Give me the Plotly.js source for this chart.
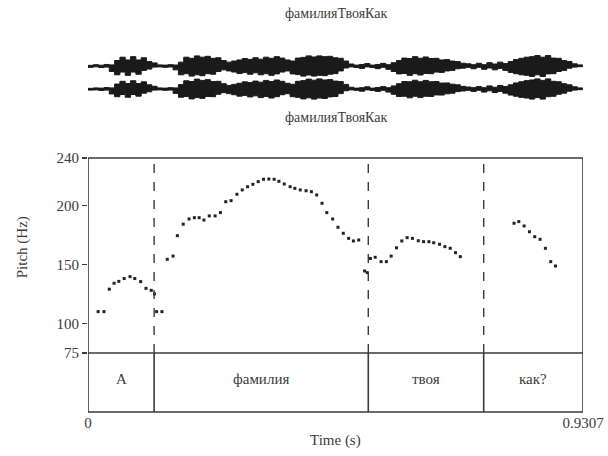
<!DOCTYPE html>
<html>
<head>
<meta charset="utf-8">
<script src="https://cdn.plot.ly/plotly-3.0.1.min.js"></script>
<style>html,body{margin:0;padding:0;background:#fff;}#chart{width:608px;height:456px;}</style>
</head>
<body>
<div id="chart"></div>
<script>
// ---- data ----
const totalDuration = 0.9307;
const soundTitle = "фамилияТвояКак";
const tierLabels = ["А", "фамилия", "твоя", "как?"];
const tierBoundaries = [0.1243, 0.527, 0.744];
const pitchTicks = [75, 100, 150, 200, 240];
const timeTickLabels = ["0", "0.9307"];

const pitchTime = [0.019,0.030,0.040,0.049,0.058,0.068,0.079,0.088,0.099,0.109,0.119,0.125,0.129,0.139,0.149,0.160,0.168,0.179,0.190,0.200,0.209,0.218,0.228,0.239,0.249,0.259,0.269,0.280,0.290,0.300,0.310,0.320,0.330,0.340,0.350,0.359,0.369,0.380,0.389,0.399,0.410,0.420,0.430,0.440,0.449,0.460,0.470,0.480,0.490,0.499,0.509,0.520,0.525,0.531,0.540,0.551,0.561,0.570,0.580,0.590,0.600,0.610,0.621,0.631,0.641,0.650,0.661,0.671,0.681,0.691,0.700,0.801,0.810,0.820,0.830,0.840,0.850,0.860,0.870,0.879];
const pitchHz = [110,110,129,134,135.6,138,139.6,138,135.4,129.7,128,125,110,110,154.3,157,174.3,184,188.4,189.5,189.5,187.5,191,191,193.8,203,203.9,209.3,213,215.7,217.7,220,222,222.2,222,220.3,218,215.7,214.3,213,212.3,211.5,208.7,201.7,193.8,188.4,181.4,176.3,172,169.8,170.6,144.4,143,155,156,152.3,152.3,157,164,169.8,172.6,172,170,169.2,169.2,168.3,167,165,163.6,159.9,156.5,184.8,186.2,182.5,177.6,173.4,171.2,163.6,152.3,148.6];

// waveform amplitude envelope (relative), sampled every 0.01 s from 0 to 0.93
const waveStep = 0.01;
const waveEnvCh1 = [0.06,0.12,0.07,0.14,0.10,0.50,0.80,0.55,0.85,0.55,0.75,0.40,0.28,0.10,0.08,0.12,0.09,0.35,0.80,0.70,0.92,0.80,0.88,0.70,0.75,0.50,0.35,0.45,0.55,0.68,0.60,0.75,0.62,0.80,0.70,0.85,0.72,0.55,0.45,0.72,0.78,0.92,0.82,0.92,0.85,0.88,0.75,0.70,0.45,0.18,0.08,0.14,0.22,0.08,0.14,0.24,0.12,0.30,0.50,0.72,0.68,0.85,0.70,0.82,0.68,0.70,0.55,0.58,0.45,0.40,0.25,0.20,0.12,0.25,0.12,0.30,0.18,0.35,0.22,0.40,0.58,0.70,0.80,0.85,0.95,0.80,0.95,0.72,0.70,0.50,0.40,0.20,0.10,0.06];
const waveEnvCh2 = [0.06,0.10,0.08,0.13,0.10,0.45,0.70,0.50,0.75,0.50,0.65,0.38,0.25,0.10,0.08,0.12,0.10,0.40,0.75,0.68,0.90,0.78,0.85,0.68,0.70,0.48,0.33,0.42,0.52,0.65,0.58,0.72,0.62,0.78,0.68,0.82,0.70,0.52,0.43,0.70,0.76,0.90,0.80,0.92,0.82,0.86,0.72,0.68,0.42,0.16,0.08,0.12,0.20,0.08,0.13,0.22,0.12,0.28,0.48,0.68,0.66,0.80,0.66,0.78,0.66,0.68,0.54,0.55,0.44,0.38,0.24,0.18,0.12,0.22,0.12,0.28,0.16,0.32,0.22,0.38,0.55,0.66,0.76,0.82,0.92,0.78,0.92,0.70,0.66,0.48,0.38,0.20,0.10,0.06];

// ---- layout helpers ----
const H = 456, W = 608;
const L = 88, R = 583, T = 0, B = 412;
const pyPix = p => (B - p) / (B - T);       // pixel y -> paper y
const pxPix = p => (p - L) / (R - L);       // pixel x -> paper x
const pitchTop = pyPix(158), pitchBot = pyPix(353);
const ink = "#3a3a3a";
const fontFam = "'Liberation Serif', 'Times New Roman', serif";

function envPolygon(env) {
  const t = env.map((_, i) => +(i * waveStep).toFixed(3));
  const xs = t.concat(t.slice().reverse());
  const ys = env.concat(env.slice().reverse().map(v => -v));
  return {x: xs, y: ys};
}
const p1 = envPolygon(waveEnvCh1), p2 = envPolygon(waveEnvCh2);

const traces = [
  {x: p1.x, y: p1.y, xaxis: "x", yaxis: "y2", type: "scatter", mode: "lines",
   fill: "toself", fillcolor: "#1a1a1a", line: {color: "#1a1a1a", width: 1, shape: "hv"}, hoverinfo: "skip"},
  {x: p2.x, y: p2.y, xaxis: "x", yaxis: "y3", type: "scatter", mode: "lines",
   fill: "toself", fillcolor: "#1a1a1a", line: {color: "#1a1a1a", width: 1, shape: "hv"}, hoverinfo: "skip"},
  {x: pitchTime, y: pitchHz, xaxis: "x", yaxis: "y", type: "scatter", mode: "markers",
   marker: {symbol: "square", size: 3, color: "#222"}, hoverinfo: "skip"}
];

const shapes = [];
function addLine(x0, y0, x1, y1, yref, dash, width) {
  shapes.push({type: "line", xref: "x", yref: yref, x0: x0, x1: x1, y0: y0, y1: y1,
    line: {color: ink, width: width || 1.6, dash: dash || "solid"}});
}
// pitch box
addLine(0, pitchTop, totalDuration, pitchTop, "paper");
addLine(0, 0, 0, pitchTop, "paper");
addLine(totalDuration, 0, totalDuration, pitchTop, "paper");
addLine(0, pitchBot, totalDuration, pitchBot, "paper");
addLine(0, 0, totalDuration, 0, "paper");
// boundaries
tierBoundaries.forEach(b => {
  addLine(b, pitchBot, b, pitchTop, "paper", "dash", 1.4);
  addLine(b, 0, b, pitchBot, "paper", "solid", 1.6);
});
// waveform end marker
addLine(totalDuration + 0.002, pyPix(101), totalDuration + 0.002, pyPix(54), "paper", "dot", 1.4);

const bounds = [0].concat(tierBoundaries, [totalDuration]);
const annotations = tierLabels.map((lab, i) => ({
  x: (bounds[i] + bounds[i + 1]) / 2, xref: "x", y: pyPix(379), yref: "paper",
  text: lab, showarrow: false, font: {family: fontFam, size: 15, color: ink},
  xanchor: "center", yanchor: "middle"
}));
annotations.push(
  {x: 0.5, xref: "paper", y: pyPix(14), yref: "paper", text: soundTitle, showarrow: false,
   font: {family: fontFam, size: 14, color: ink}, xanchor: "center", yanchor: "middle"},
  {x: 0.5, xref: "paper", y: pyPix(117), yref: "paper", text: soundTitle, showarrow: false,
   font: {family: fontFam, size: 14, color: ink}, xanchor: "center", yanchor: "middle"},
  {x: pxPix(22), xref: "paper", y: (pitchTop + pitchBot) / 2 + 0.02, yref: "paper", text: "Pitch (Hz)",
   showarrow: false, textangle: -90, font: {family: fontFam, size: 15, color: ink},
   xanchor: "center", yanchor: "middle"},
  {x: 0.5, xref: "paper", y: pyPix(440), yref: "paper", text: "Time (s)", showarrow: false,
   font: {family: fontFam, size: 15, color: ink}, xanchor: "center", yanchor: "middle"}
);

const layout = {
  width: W, height: H,
  margin: {l: L, r: W - R, t: T, b: H - B, pad: 0},
  paper_bgcolor: "#fff", plot_bgcolor: "rgba(0,0,0,0)",
  showlegend: false,
  xaxis: {range: [0, totalDuration], anchor: "free", position: 0, domain: [0, 1],
    showgrid: false, zeroline: false, showline: false, ticks: "",
    tickvals: [0, totalDuration], ticktext: timeTickLabels,
    tickfont: {family: fontFam, size: 15, color: ink}, fixedrange: true},
  yaxis: {domain: [pitchBot, pitchTop], range: [75, 240], showgrid: false, zeroline: false,
    showline: false, ticks: "outside", ticklen: 5, tickwidth: 1.4, tickcolor: ink,
    tickvals: pitchTicks, ticktext: pitchTicks.map(String),
    tickfont: {family: fontFam, size: 15, color: ink}, fixedrange: true},
  yaxis2: {domain: [pyPix(77), pyPix(55)], range: [-1, 1], visible: false, fixedrange: true},
  yaxis3: {domain: [pyPix(100), pyPix(78)], range: [-1, 1], visible: false, fixedrange: true},
  shapes: shapes,
  annotations: annotations
};

Plotly.newPlot("chart", traces, layout, {displayModeBar: false, staticPlot: true});
</script>
</body>
</html>
